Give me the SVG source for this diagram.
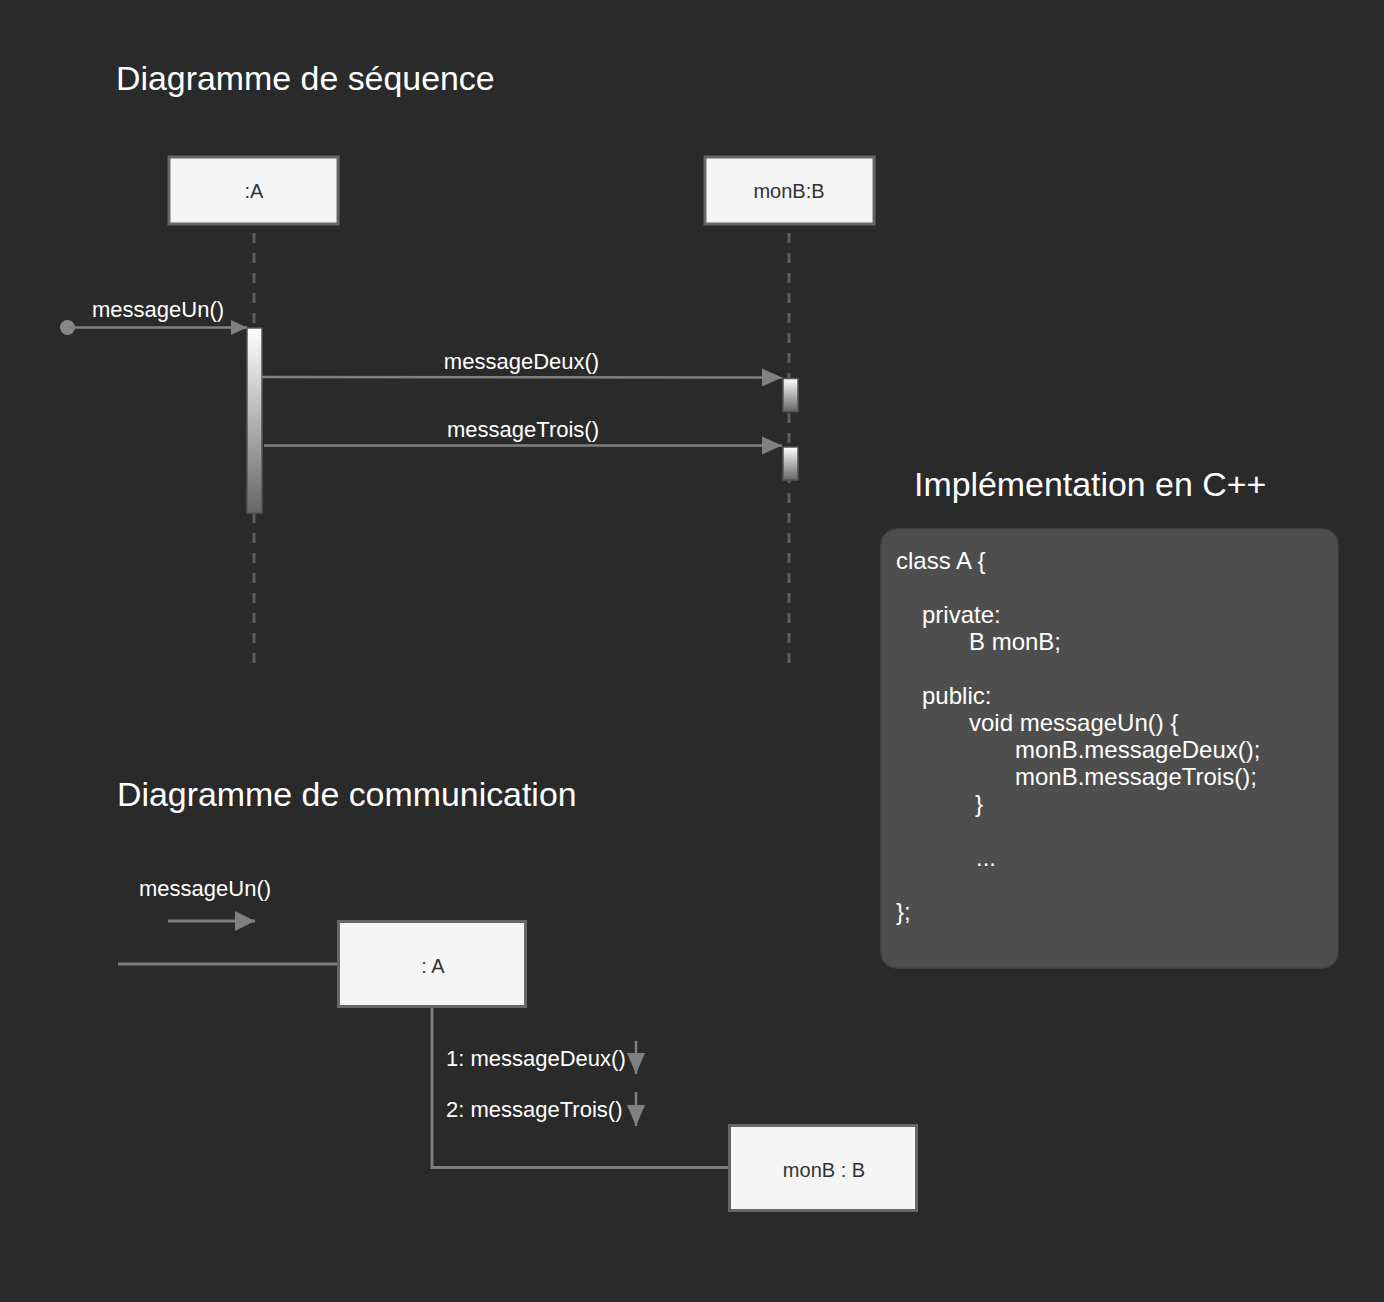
<svg xmlns="http://www.w3.org/2000/svg" width="1384" height="1302" viewBox="0 0 1384 1302">
<style>
.title{font-family:"Liberation Sans",Arial,sans-serif;font-size:33.9px;fill:#ffffff}
.lbl{font-family:"Liberation Sans",Arial,sans-serif;font-size:22px;fill:#ffffff}
.code{font-family:"Liberation Sans",Arial,sans-serif;font-size:24px;fill:#ffffff}
.obj{fill:#f5f5f5;stroke:#666666;stroke-width:3}
.objt{font-family:"Liberation Sans",Arial,sans-serif;font-size:20px;fill:#333333;text-anchor:middle}
.life{stroke:#5c5c5c;stroke-width:3;stroke-dasharray:10 10;fill:none}
.msg{stroke:#808080;stroke-width:2.5;fill:none}
.conn{stroke:#7d7d7d;stroke-width:3;fill:none}
.act{stroke:#555555;stroke-width:1.5}
</style>
<defs>
<linearGradient id="actg" x1="0" y1="0" x2="0" y2="1">
<stop offset="0" stop-color="#ffffff"/>
<stop offset="1" stop-color="#666666"/>
</linearGradient>
<marker id="arr" markerUnits="userSpaceOnUse" viewBox="0 0 20 18" refX="20" refY="9" markerWidth="20" markerHeight="18" orient="auto">
<path d="M0,0 L20,9 L0,18 Z" fill="#808080"/>
</marker>
<marker id="arrS" markerUnits="userSpaceOnUse" viewBox="0 0 16 15" refX="16" refY="7.5" markerWidth="16" markerHeight="15" orient="auto">
<path d="M0,0 L16,7.5 L0,15 Z" fill="#808080"/>
</marker>
<marker id="arrC" markerUnits="userSpaceOnUse" viewBox="0 0 20 20" refX="20" refY="10" markerWidth="20" markerHeight="20" orient="auto">
<path d="M0,0 L20,10 L0,20 Z" fill="#808080"/>
</marker>
<marker id="arrD" markerUnits="userSpaceOnUse" viewBox="0 0 21 18" refX="21" refY="9" markerWidth="21" markerHeight="18" orient="auto">
<path d="M0,0 L21,9 L0,18 Z" fill="#808080"/>
</marker>
</defs>
<rect x="0" y="0" width="1384" height="1302" fill="#2a2a2a"/>

<g id="titles">
<text class="title" x="116" y="90">Diagramme de séquence</text>
<text class="title" x="117" y="806">Diagramme de communication</text>
<text class="title" x="914" y="496">Implémentation en C++</text>
</g>

<g id="lifelines">
<line class="life" x1="254" y1="663" x2="254" y2="226"/>
<line class="life" x1="789" y1="663" x2="789" y2="226"/>
</g>

<g id="seqA">
<rect class="obj" x="169" y="157" width="169" height="67"/>
<text class="objt" x="254" y="198">:A</text>
</g>
<g id="seqB">
<rect class="obj" x="705" y="157" width="169" height="67"/>
<text class="objt" x="789" y="198">monB:B</text>
</g>

<g id="activations">
<rect class="act" x="247" y="328" width="15" height="185" fill="url(#actg)"/>
<rect class="act" x="783" y="378.5" width="15" height="33" fill="url(#actg)"/>
<rect class="act" x="783" y="447" width="15" height="33" fill="url(#actg)"/>
</g>

<g id="connectors">
<circle cx="67.5" cy="327.5" r="7.5" fill="#888888"/>
<line class="msg" x1="67" y1="327.5" x2="247" y2="327.5" marker-end="url(#arrS)"/>
<line class="msg" x1="262" y1="377" x2="782" y2="377.5" marker-end="url(#arr)"/>
<line class="msg" x1="264" y1="445.5" x2="782" y2="445.5" marker-end="url(#arr)"/>
<line class="conn" x1="168" y1="921" x2="255" y2="921" marker-end="url(#arrC)"/>
<path class="conn" d="M118,964 H338"/>
<path class="conn" d="M432,1008 V1167.5 H729"/>
<line class="msg" x1="636" y1="1041" x2="636" y2="1074" marker-end="url(#arrD)"/>
<line class="msg" x1="636" y1="1092" x2="636" y2="1126" marker-end="url(#arrD)"/>
</g>

<g id="labels">
<text class="lbl" x="92" y="317">messageUn()</text>
<text class="lbl" x="521.5" y="369" text-anchor="middle">messageDeux()</text>
<text class="lbl" x="523" y="437" text-anchor="middle">messageTrois()</text>
<text class="lbl" x="139" y="896">messageUn()</text>
<text class="lbl" x="446" y="1066">1: messageDeux()</text>
<text class="lbl" x="446" y="1117">2: messageTrois()</text>
</g>

<g id="commA">
<rect class="obj" x="338.5" y="921.5" width="187" height="85"/>
<text class="objt" x="433" y="973">: A</text>
</g>
<g id="commB">
<rect class="obj" x="729.5" y="1125.5" width="187" height="85"/>
<text class="objt" x="824" y="1177">monB : B</text>
</g>

<g id="code">
<rect x="881" y="529" width="457" height="439" rx="16" ry="16" fill="#4e4e4e" stroke="#444444" stroke-width="1.5"/>
<text class="code" x="896" y="569">class A {</text>
<text class="code" x="922" y="623">private:</text>
<text class="code" x="969" y="650">B monB;</text>
<text class="code" x="922" y="704">public:</text>
<text class="code" x="969" y="731">void messageUn() {</text>
<text class="code" x="1015" y="758">monB.messageDeux();</text>
<text class="code" x="1015" y="785">monB.messageTrois();</text>
<text class="code" x="975" y="812">}</text>
<text class="code" x="976" y="866">...</text>
<text class="code" x="896" y="920">};</text>
</g>
</svg>
